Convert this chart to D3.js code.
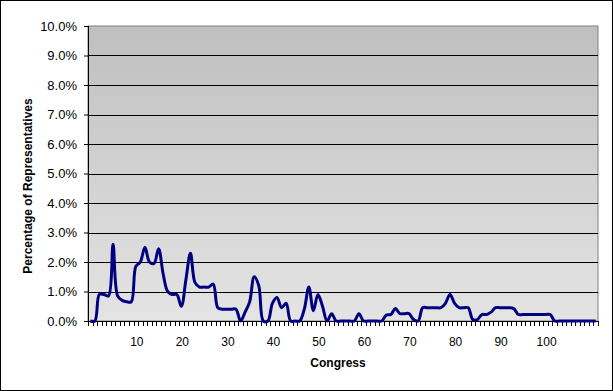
<!DOCTYPE html>
<html>
<head>
<meta charset="utf-8">
<script src="https://cdn.jsdelivr.net/npm/d3@7"></script>
<style>
  body { margin: 0; background: #fff; }
  text { font-family: "Liberation Sans", Arial, sans-serif; }
</style>
</head>
<body>
<div id="chart"></div>
<script>
// congress index (0 = first point of series) and share of representatives in %
var congress = d3.range(0, 112);
var pct = [
  0, 0, 0.9, 0.9, 0.85, 2.6, 0.85, 0.7, 0.65, 0.65,
  1.85, 2.0, 2.5, 2.0, 1.95, 2.45, 1.6, 1.0, 0.9, 0.9,
  0.5, 1.4, 2.3, 1.3, 1.15, 1.15, 1.15, 1.25, 0.45, 0.4,
  0.4, 0.4, 0.4, 0, 0.3, 0.65, 1.5, 1.2, 0, 0,
  0.6, 0.8, 0.45, 0.6, 0, 0, 0, 0.4, 1.15, 0.35,
  0.9, 0.5, 0, 0.25, 0, 0, 0, 0, 0, 0.25,
  0, 0, 0, 0, 0, 0.2, 0.22, 0.42, 0.25, 0.25,
  0.25, 0.05, 0, 0.45, 0.45, 0.45, 0.45, 0.45, 0.6, 0.9,
  0.6, 0.45, 0.45, 0.45, 0.05, 0.05, 0.22, 0.22, 0.3, 0.45,
  0.45, 0.45, 0.45, 0.42, 0.22, 0.22, 0.22, 0.22, 0.22, 0.22,
  0.22, 0.22, 0, 0, 0, 0, 0, 0, 0, 0,
  0, 0
];
var xTickLabels = [10, 20, 30, 40, 50, 60, 70, 80, 90, 100];
var yTicks = [0, 1, 2, 3, 4, 5, 6, 7, 8, 9, 10];

var svgWidth = 613, svgHeight = 391;
var margin = {top: 26, right: 15, bottom: 70, left: 88};
var chartWidth = 598 - margin.left;
var chartHeight = 321 - margin.top;

var svg = d3.select('#chart')
    .append('svg')
    .attr('width', svgWidth)
    .attr('height', svgHeight);

// outer frame
svg.append('rect')
    .attr('x', 0.5).attr('y', 0.5)
    .attr('width', svgWidth - 1).attr('height', svgHeight - 1)
    .attr('fill', '#fff').attr('stroke', '#000');

var grad = svg.append('defs').append('linearGradient')
    .attr('id', 'plotbg').attr('x1', 0).attr('y1', 0).attr('x2', 0).attr('y2', 1);
grad.append('stop').attr('offset', '0%').attr('stop-color', '#bfbfbf');
grad.append('stop').attr('offset', '100%').attr('stop-color', '#e4e4e4');

var chart = svg.append('g').attr('transform', `translate(${margin.left}, ${margin.top})`);

var x = d3.scaleBand().domain(congress).range([0, chartWidth]);
var y = d3.scaleLinear().domain([0, 10]).range([chartHeight, 0]);

// plot area
chart.append('rect')
    .attr('width', chartWidth).attr('height', chartHeight)
    .attr('fill', 'url(#plotbg)')
    .attr('stroke', '#808080');

// gridlines
chart.selectAll('.grid')
    .data(yTicks.filter(d => d > 0 && d < 10))
    .enter()
    .append('line')
    .attr('x1', 0).attr('x2', chartWidth)
    .attr('y1', d => Math.round(y(d)) + 0.5)
    .attr('y2', d => Math.round(y(d)) + 0.5)
    .attr('stroke', '#000');

// y axis
var leftAxis = d3.axisLeft(y)
    .tickValues(yTicks)
    .tickSize(4)
    .tickPadding(7)
    .tickFormat(d => d.toFixed(1) + '%');
var gy = chart.append('g').call(leftAxis);
gy.select('.domain').attr('d', `M0.5,0V${chartHeight}`).attr('stroke', '#000');
gy.selectAll('.tick line').attr('stroke', '#000');
gy.selectAll('.tick text')
    .style('font-family', '"Liberation Sans", Arial, sans-serif')
    .style('font-size', '13px')
    .attr('fill', '#000');

// x axis: ticks between categories, labels every ten
var gx = chart.append('g').attr('transform', `translate(0, ${chartHeight})`);
gx.append('line')
    .attr('x1', 0).attr('x2', chartWidth)
    .attr('y1', 0.5).attr('y2', 0.5)
    .attr('stroke', '#000');
gx.selectAll('.xtick')
    .data(congress.concat([congress.length]))
    .enter()
    .append('line')
    .attr('x1', d => Math.round(d * x.step()) + 0.5)
    .attr('x2', d => Math.round(d * x.step()) + 0.5)
    .attr('y1', 0).attr('y2', 5)
    .attr('stroke', '#000');
gx.selectAll('.xlabel')
    .data(xTickLabels)
    .enter()
    .append('text')
    .attr('x', d => x(d) + x.bandwidth() / 2 + 1)
    .attr('y', 25)
    .attr('text-anchor', 'middle')
    .style('font-size', '12px')
    .text(d => d);

// the line
var line = d3.line()
    .x((d, i) => x(congress[i]) + x.bandwidth() / 2)
    .y(d => y(d))
    .curve(d3.curveCatmullRom.alpha(0.5));

chart.append('path')
    .datum(pct)
    .attr('d', line)
    .attr('fill', 'none')
    .attr('stroke', '#000080')
    .attr('stroke-width', 3)
    .attr('stroke-linejoin', 'round');

// axis titles
svg.append('text')
    .attr('x', 338)
    .attr('y', 367)
    .attr('text-anchor', 'middle')
    .style('font-size', '12px')
    .style('font-weight', 'bold')
    .text('Congress');

svg.append('text')
    .attr('transform', 'translate(32, 186) rotate(-90)')
    .attr('text-anchor', 'middle')
    .style('font-size', '12px')
    .style('font-weight', 'bold')
    .text('Percentage of Representatives');
</script>
</body>
</html>
